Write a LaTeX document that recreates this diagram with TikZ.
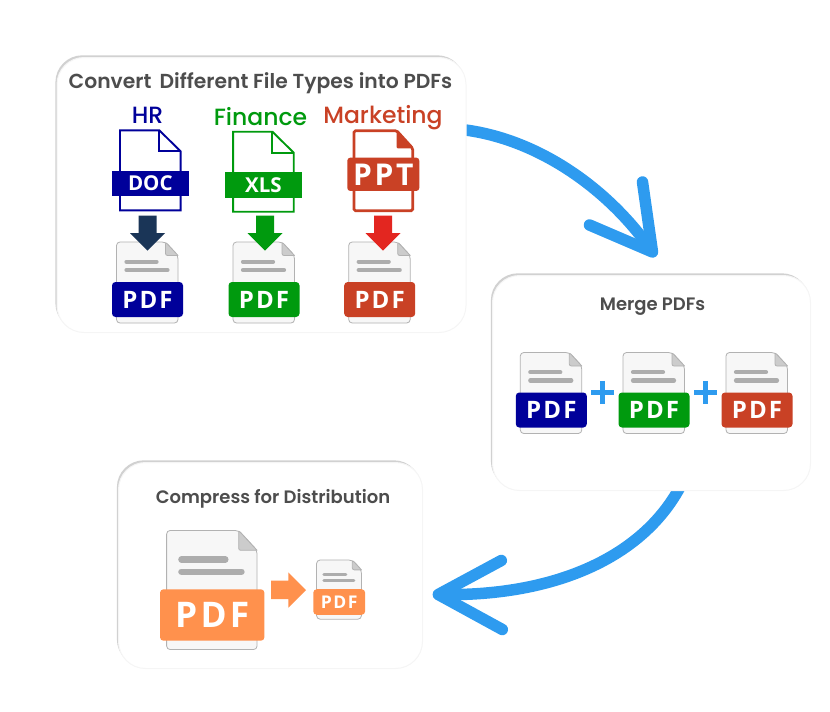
\documentclass[tikz,border=0pt]{standalone}
\usepackage{fontspec}
\setmainfont{Poppins}
\newfontfamily\titlefont{Poppins SemiBold}
\newfontfamily\groupfont{Poppins Medium}
\newfontfamily\tagfont{Open Sans}[LetterSpace=9]
\newfontfamily\srcfont{Open Sans}
\usepackage{xcolor}
\usetikzlibrary{calc,backgrounds,shadows}

\definecolor{navytag}{HTML}{00009A}
\definecolor{greentag}{HTML}{009A0E}
\definecolor{redtag}{HTML}{C94125}
\definecolor{orangetag}{HTML}{FF914D}
\definecolor{navyarrow}{HTML}{1A3557}
\definecolor{redarrow}{HTML}{E32620}
\definecolor{flowblue}{HTML}{2E9BEF}
\definecolor{titlegray}{HTML}{4D4D4D}

\tikzset{
	stepbox/.style={draw=black!4, line width=1pt, fill=white, rounded corners=27pt, inner sep=0pt,
		general shadow={shadow xshift=-1.6pt, shadow yshift=2.2pt, fill=black!18}},
	boxtitle/.style={text=titlegray, inner sep=0pt},
	grouptitle/.style={font=\groupfont\fontsize{23.5}{23.5}\selectfont, inner sep=0pt},
	pdftag/.style={fill=#1, rounded corners=3.5pt, minimum width=71pt, minimum height=35pt, inner sep=0pt,
		text=white, font=\tagfont\bfseries\fontsize{24}{24}\selectfont, transform shape},
	srctag/.style={fill=#1, minimum width=76.7pt, minimum height=25.6pt, inner sep=0pt,
		text=white, font=\srcfont\bfseries\fontsize{20.5}{20.5}\selectfont},
	flow/.style={draw=flowblue, line width=11.5pt},
	flowhead/.style={flow, line cap=round, line join=round},
	plus/.style={draw=flowblue, line width=4.6pt}
}

% sheet with a coloured PDF band: name, x, y, scale, colour
\newcommand{\pdfdoc}[5]{
	\begin{scope}[shift={(#2,#3)}, scale=#4]
		\draw[draw=black!30, line width=.8pt, fill=black!3, rounded corners=3.5pt]
			(-31,-57.5) -- (18,-57.5) -- (30.5,-44) -- (30.5,23.5) -- (-31,23.5) -- cycle;
		\draw[draw=black!30, line width=.8pt, fill=black!20, line join=round]
			(18,-57.5) -- (30.5,-44) -- (21,-44) [rounded corners=2pt] -- (18,-44) -- cycle;
		\draw[draw=black!32, line width=#4*4.2pt, line cap=round] (-21,-37.8) -- (9,-37.8);
		\draw[draw=black!32, line width=#4*4.2pt, line cap=round] (-21,-29.5) -- (20,-29.5);
		\node (#1) at (0,0) [pdftag=#5] {PDF};
	\end{scope}
}

% outlined sheet with a plain band: name, x, y, colour, text
\newcommand{\srcdoc}[5]{
	\draw[draw=#4, line width=1.9pt, fill=white] (#2-30.3,#3-53) -- (#2+9,#3-53) -- (#2+30.3,#3-32) -- (#2+30.3,#3+27) -- (#2-30.3,#3+27) -- cycle;
	\draw[draw=#4, line width=1.9pt] (#2+9,#3-53) -- (#2+9,#3-32) -- (#2+30.3,#3-32);
	\node (#1) at (#2,#3) [srctag=#4] {#5};
}

% block arrow pointing down: x, colour
\newcommand{\blockdown}[2]{
	\fill[#2] (#1-9,215.7) -- (#1+9,215.7) -- (#1+9,233) -- (#1+17.5,233) -- (#1,250.7) -- (#1-17.5,233) -- (#1-9,233) -- cycle;
}

\begin{document}
\begin{tikzpicture}[x=1pt, y=-1pt]
	\useasboundingbox (0,0) rectangle (830,712);

	% the three panels
	\node (box1) at (261.5,195) [stepbox, minimum width=409pt, minimum height=275pt] {};
	\node (box2) at (651.5,383) [stepbox, minimum width=318pt, minimum height=215pt] {};
	\node (box3) at (270.5,565.5) [stepbox, minimum width=304pt, minimum height=206pt] {};

	\node (title1) at (260.5,83.5) [boxtitle, font=\titlefont\fontsize{20.3}{20.3}\selectfont] {Convert\, Different File Types into PDFs};
	\node (title2) at (652.5,306.5) [boxtitle, font=\titlefont\fontsize{18}{18}\selectfont] {Merge PDFs};
	\node (title3) at (273,498.5) [boxtitle, font=\titlefont\fontsize{18}{18}\selectfont] {Compress for Distribution};

	\node (hr) at (147.5,115.5) [grouptitle, text=navytag] {HR};
	\node (finance) at (260.5,116.5) [grouptitle, text=greentag] {Finance};
	\node (marketing) at (383,118) [grouptitle, text=redtag] {Marketing};

	% source files
	\srcdoc{doc}{150.3}{183.3}{navytag}{DOC}
	\srcdoc{xls}{263.4}{184.7}{greentag}{XLS}
	\draw[draw=redtag, line width=2.7pt, fill=white, rounded corners=1.5pt] (354,130.7) -- (396.7,130.7) -- (412.7,148.3) -- (412.7,210.7) -- (354,210.7) -- cycle;
	\fill[redtag, rounded corners=1pt] (396.7,130.7) -- (412.7,148.3) -- (396.7,148.3) -- cycle;
	\node (ppt) at (383.3,174.3) [srctag=redtag, minimum width=72pt, minimum height=33.3pt, rounded corners=3pt, font=\tagfont\bfseries\fontsize{30}{30}\selectfont] {PPT};

	% converted files
	\pdfdoc{pdfhr}{147.5}{299.5}{1}{navytag}
	\pdfdoc{pdffin}{264}{299.5}{1}{greentag}
	\pdfdoc{pdfmkt}{379.7}{299.5}{1}{redtag}

	\blockdown{147.5}{navyarrow}
	\blockdown{265}{greentag}
	\blockdown{383}{redarrow}

	% merge row
	\pdfdoc{mergehr}{551.3}{410}{1}{navytag}
	\pdfdoc{mergefin}{654}{410}{1}{greentag}
	\pdfdoc{mergemkt}{757}{410}{1}{redtag}
	\coordinate (plusa) at ($(mergehr.north east)!.5!(mergefin.north west)$);
	\coordinate (plusb) at ($(mergefin.north east)!.5!(mergemkt.north west)$);
	\draw[plus] ($(plusa)+(-11.5,0)$) -- ($(plusa)+(11.5,0)$);
	\draw[plus] ($(plusa)+(0,-11.5)$) -- ($(plusa)+(0,11.5)$);
	\draw[plus] ($(plusb)+(-11.5,0)$) -- ($(plusb)+(11.5,0)$);
	\draw[plus] ($(plusb)+(0,-11.5)$) -- ($(plusb)+(0,11.5)$);

	% compress row
	\pdfdoc{bigpdf}{212.2}{615}{1.47}{orangetag}
	\pdfdoc{smallpdf}{339.2}{602}{.73}{orangetag}
	\fill[orangetag] (271,580.7) -- (288.3,580.7) -- (288.3,572.3) -- (306,590) -- (288.3,607.7) -- (288.3,599) -- (271,599) -- cycle;

	% curved flow arrows
	\begin{scope}[on background layer]
		\coordinate (start1) at ($(box1.east)+(-1,-65)$);
		\coordinate (tip1) at ($(box2.north)+(1,-23)$);
		\coordinate (start2) at ($(box2.south)+(28,-3)$);
		\coordinate (tip2) at ($(box3.east)+(15.3,29)$);
		\draw[flow] (start1) .. controls (540,140) and (610,190) .. (tip1);
		\draw[flowhead] ($(tip1)+(-10,-70)$) -- (tip1) -- ($(tip1)+(-63,-27)$);
		\draw[flow] (start2) .. controls (640,560) and (550,597) .. (tip2);
		\draw[flowhead] ($(tip2)+(63,-34)$) -- (tip2) -- ($(tip2)+(64,35)$);
	\end{scope}
\end{tikzpicture}
\end{document}
